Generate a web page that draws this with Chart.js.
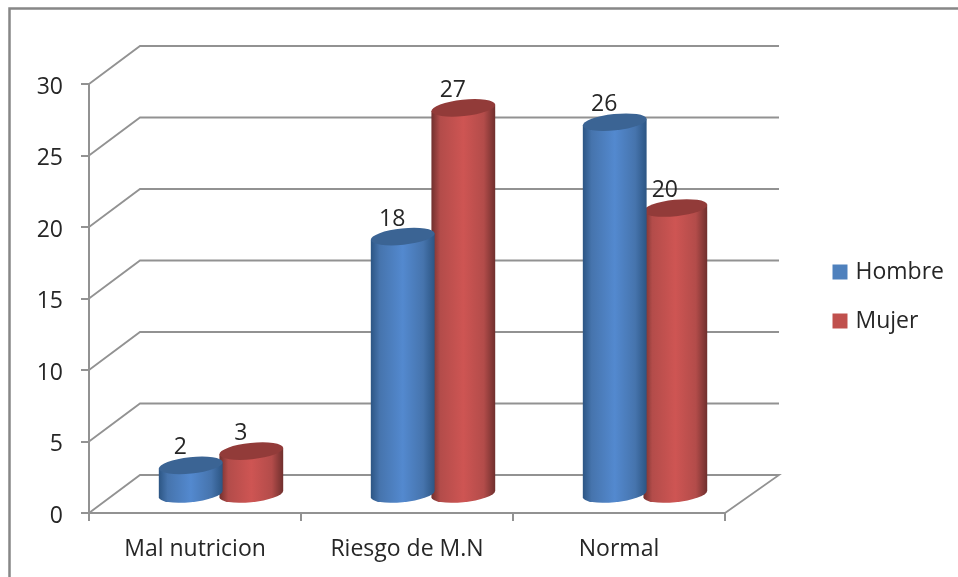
<!DOCTYPE html>
<html><head><meta charset="utf-8">
<script src="https://cdn.jsdelivr.net/npm/chart.js@4"></script>
<style>html,body{margin:0;padding:0;background:#fff;overflow:hidden}canvas{display:block}</style>
</head><body><canvas id="c" width="958" height="577"></canvas>
<script>
const categories = ["Mal nutricion", "Riesgo de M.N", "Normal"];
const hombre = [2, 18, 26];
const mujer = [3, 27, 20];
const yTicks = {min: 0, max: 30, step: 5};

const FONT = '"Open Sans"';
const TEXT = '#262626', AXIS = '#929292';
const DX = 51, DY = -38;            // perspective offset of the back wall
const MX = 26, MY = -19;            // bar plane between front and back
const TONES = {
  Hombre: {edge: '#2c5583', mid: '#4674ad', light: '#5389cf', cap: '#3b6494'},
  Mujer:  {edge: '#6f2f2d', mid: '#b34c4a', light: '#ce5553', cap: '#923b39'}
};

const walls = {
  id: 'walls',
  beforeDraw(chart) {
    const {ctx, scales: {x, y}} = chart;
    y.getLabelItems().forEach(item => { item.textOffset = 3; });
    ctx.save();
    ctx.fillStyle = '#fff';
    ctx.fillRect(0, 0, chart.width, chart.height);
    ctx.strokeStyle = '#878787';
    ctx.lineWidth = 2.5;
    ctx.strokeRect(9.5, 8.5, 1200, 1200);
    ctx.strokeStyle = AXIS;
    ctx.lineWidth = 1.8;
    y.ticks.forEach(t => {
      const py = y.getPixelForValue(t.value);
      ctx.beginPath();
      ctx.moveTo(x.left, py);
      ctx.lineTo(x.left + DX, py + DY);
      ctx.lineTo(x.right + DX + 3, py + DY);
      if (t.value === yTicks.min) ctx.lineTo(x.right, py);
      ctx.stroke();
    });
    ctx.restore();
  }
};

function cylinder(ctx, bar, base, tone) {
  const a = bar.width / 2, b = 8.2, phi = -0.105;
  const cx = bar.x + MX, top = bar.y + MY, bot = base + MY;
  const t0 = Math.atan2(-b * Math.sin(phi), a * Math.cos(phi));
  const ex = a * Math.cos(t0) * Math.cos(phi) - b * Math.sin(t0) * Math.sin(phi);
  const ey = a * Math.cos(t0) * Math.sin(phi) + b * Math.sin(t0) * Math.cos(phi);
  const g = ctx.createLinearGradient(cx - a, 0, cx + a, 0);
  g.addColorStop(0, tone.edge);
  g.addColorStop(0.14, tone.mid);
  g.addColorStop(0.5, tone.light);
  g.addColorStop(0.82, tone.mid);
  g.addColorStop(1, tone.edge);
  ctx.beginPath();
  ctx.ellipse(cx, bot, a, b, phi, t0, t0 + Math.PI);
  ctx.lineTo(cx - ex, top - ey);
  ctx.lineTo(cx + ex, top + ey);
  ctx.closePath();
  ctx.fillStyle = g;
  ctx.fill();
  ctx.beginPath();
  ctx.ellipse(cx, top, a, b, phi, 0, Math.PI * 2);
  ctx.fillStyle = tone.cap;
  ctx.fill();
}

const cylinders = {
  id: 'cylinders',
  beforeDatasetDraw(chart, args) {
    const {ctx} = chart;
    const tone = TONES[args.meta.label];
    ctx.save();
    args.meta.data.forEach(bar => cylinder(ctx, bar, chart.scales.y.getPixelForValue(0), tone));
    ctx.restore();
    return false;
  },
  afterDatasetsDraw(chart) {
    const {ctx} = chart;
    ctx.save();
    ctx.font = '23px ' + FONT;
    ctx.fillStyle = TEXT;
    ctx.textAlign = 'center';
    ctx.textBaseline = 'alphabetic';
    chart.data.datasets.forEach((ds, i) => {
      chart.getDatasetMeta(i).data.forEach((bar, j) => {
        ctx.fillText(String(ds.data[j]), bar.x + MX - 10.5, bar.y + MY - 11);
      });
    });
    ctx.restore();
  },
  afterLayout(chart) {
    const l = chart.legend;
    const w = l.right - l.left, h = l.bottom - l.top;
    l.left = 810; l.right = 810 + w; l.top = 50; l.bottom = 50 + h;
  }
};

new Chart(document.getElementById('c'), {
  type: 'bar',
  data: {
    labels: categories,
    datasets: [
      {label: 'Hombre', data: hombre, backgroundColor: '#4f81bd', borderColor: '#4f81bd', borderWidth: 0, pointStyle: 'rect'},
      {label: 'Mujer', data: mujer, backgroundColor: '#c0504d', borderColor: '#c0504d', borderWidth: 0, pointStyle: 'rect'}
    ]
  },
  options: {
    responsive: false,
    animation: false,
    categoryPercentage: 0.5717,
    barPercentage: 1.058,
    layout: {padding: {left: 0, right: 89, top: 84, bottom: 0}},
    plugins: {
      tooltip: {enabled: false},
      legend: {
        position: 'right',
        labels: {
          usePointStyle: true, boxWidth: 8, boxHeight: 15, padding: 26,
          font: {family: FONT, size: 23}, color: TEXT
        }
      }
    },
    scales: {
      x: {
        offset: true,
        border: {color: AXIS, width: 2},
        grid: {drawOnChartArea: false, color: AXIS, tickLength: 8, lineWidth: 2},
        ticks: {color: TEXT, font: {family: FONT, size: 23}, padding: 15, maxRotation: 0, autoSkip: false},
        afterFit(s) { s.height = 64; }
      },
      y: {
        min: yTicks.min, max: yTicks.max,
        border: {color: AXIS, width: 2},
        grid: {drawOnChartArea: false, color: AXIS, tickLength: 8, lineWidth: 2},
        ticks: {stepSize: yTicks.step, color: TEXT, font: {family: FONT, size: 23}, padding: 18},
        afterFit(s) { s.width = 89; }
      }
    }
  },
  plugins: [walls, cylinders]
});
</script></body></html>
